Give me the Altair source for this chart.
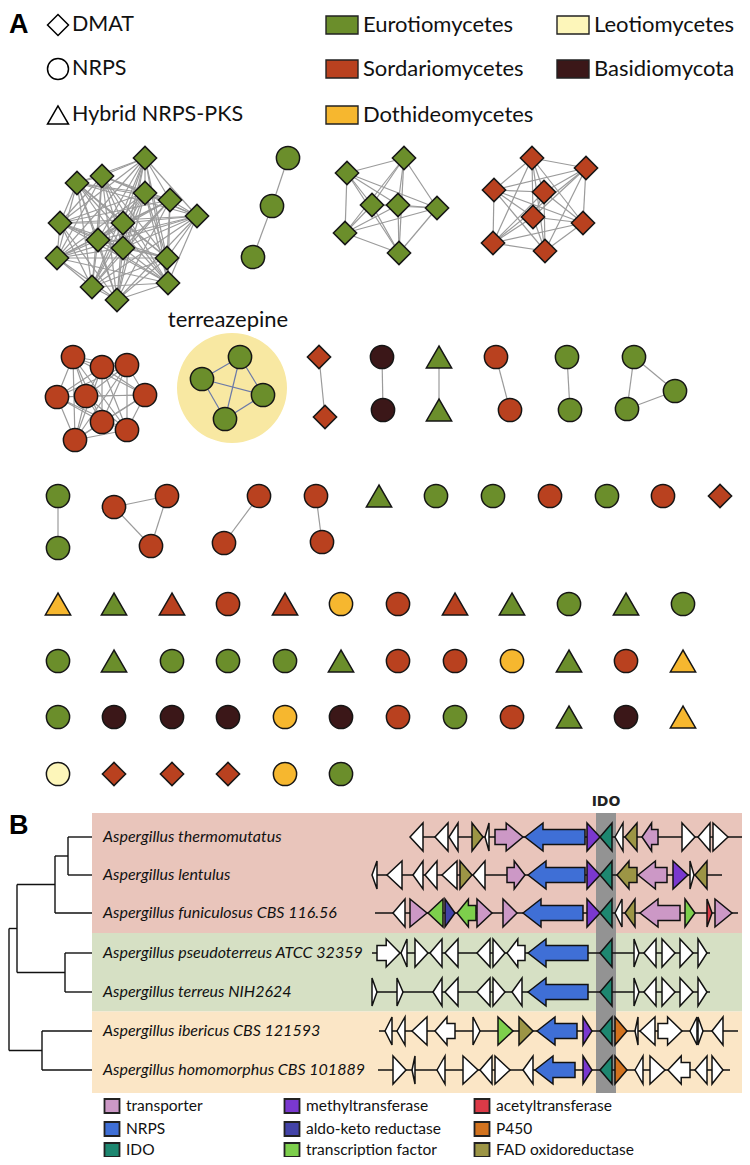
import itertools
import altair as alt
import pandas as pd

# ================= Panel A : legend =================
shape_codes = ["dmat", "nrps", "hyb"]
shape_labels = ["DMAT", "NRPS", "Hybrid NRPS-PKS"]
shape_marks = ["diamond", "circle", "triangle-up"]

taxon_codes = ["eur", "sor", "dot", "leo", "bas"]
taxon_labels = ["Eurotiomycetes", "Sordariomycetes", "Dothideomycetes", "Leotiomycetes", "Basidiomycota"]
taxon_colors = ["#6b8e2b", "#b9411f", "#f6b72f", "#fdf6ba", "#3b1718"]

# ================= Panel A : network clusters (node positions) =================
c1_x = [145, 77, 102, 145, 170, 197, 60, 123, 98, 123, 57, 167, 92, 168, 117]
c1_y = [158, 183, 176, 193, 200, 216, 223, 223, 240, 248, 258, 258, 287, 283, 300]
c2_x = [288, 272, 253]
c2_y = [158, 206, 257]
c3_x = [404, 347, 372, 398, 437, 345, 399]
c3_y = [158, 173, 205, 205, 208, 233, 253]
c4_x = [532, 586, 494, 544, 533, 583, 493, 545]
c4_y = [158, 168, 190, 192, 217, 223, 243, 251]
c5_x = [73, 102, 127, 57, 86, 145, 102, 127, 75]
c5_y = [357, 367, 365, 397, 396, 395, 422, 430, 440]
c6_x = [240, 202, 263, 225]          # terreazepine
c6_y = [357, 379, 395, 419]
c7_x = [319, 325]
c7_y = [357, 417]
c8_x = [382, 383]
c8_y = [357, 410]
c9_x = [439, 439]
c9_y = [357, 410]
c10_x = [496, 510]
c10_y = [357, 410]
c11_x = [567, 570]
c11_y = [357, 410]
c12_x = [634, 675, 627]
c12_y = [357, 391, 409]
c13_x = [58, 58]
c13_y = [496, 548]
c14_x = [114, 167, 151]
c14_y = [507, 496, 546]
c15_x = [259, 224]
c15_y = [496, 543]
c16_x = [316, 322]
c16_y = [496, 542]

cluster_shape = ["dmat", "nrps", "dmat", "dmat", "nrps", "nrps", "dmat", "nrps",
                 "hyb", "nrps", "nrps", "nrps", "nrps", "nrps", "nrps", "nrps"]
cluster_taxon = ["eur", "eur", "eur", "sor", "sor", "eur", "sor", "bas",
                 "eur", "sor", "eur", "eur", "eur", "sor", "sor", "sor"]
cluster_edges = ["all", "chain", "all", "all", "all", "all", "all", "all",
                 "all", "all", "all", "all", "all", "all", "all", "all"]

# singletons in the row of pairs
row3_x = [379, 436, 493, 550, 607, 663, 720]
row3_y = 496
row3_shape = ["hyb", "nrps", "nrps", "nrps", "nrps", "nrps", "dmat"]
row3_taxon = ["eur", "eur", "eur", "sor", "eur", "sor", "sor"]

# singleton grid
grid_x = [58, 114, 172, 228, 285, 341, 398, 455, 512, 569, 626, 683]
grid_y = [604, 661, 717, 774]
grid_shape = [
    ["hyb", "hyb", "hyb", "nrps", "hyb", "nrps", "nrps", "hyb", "hyb", "nrps", "hyb", "nrps"],
    ["nrps", "hyb", "nrps", "nrps", "nrps", "hyb", "nrps", "nrps", "nrps", "hyb", "nrps", "hyb"],
    ["nrps", "nrps", "nrps", "nrps", "nrps", "nrps", "nrps", "nrps", "nrps", "hyb", "nrps", "hyb"],
    ["nrps", "dmat", "dmat", "dmat", "nrps", "nrps"],
]
grid_taxon = [
    ["dot", "eur", "sor", "sor", "sor", "dot", "sor", "sor", "eur", "eur", "eur", "eur"],
    ["eur", "eur", "eur", "eur", "eur", "eur", "sor", "sor", "dot", "eur", "sor", "dot"],
    ["eur", "bas", "bas", "bas", "dot", "bas", "sor", "eur", "sor", "eur", "bas", "dot"],
    ["leo", "sor", "sor", "sor", "dot", "eur"],
]

# ================= Panel B =================
species = ["Aspergillus thermomutatus", "Aspergillus lentulus", "Aspergillus funiculosus CBS 116.56",
           "Aspergillus pseudoterreus ATCC 32359", "Aspergillus terreus NIH2624",
           "Aspergillus ibericus CBS 121593", "Aspergillus homomorphus CBS 101889"]
species_y = [837, 875, 913, 953, 992, 1031, 1070]

# tree: (node, child a, child b, branch x)
tree_nodes = [("n1", 0, 1, 68), ("n2", "n1", 2, 55), ("n3", 3, 4, 65),
              ("n4", "n2", "n3", 17), ("n5", 5, 6, 42), ("root", "n4", "n5", 9)]

clade_first = [0, 3, 5]
clade_last = [2, 4, 6]
clade_colors = ["#e9c5bb", "#d6e0c4", "#fbe6c6"]

gene_types = ["tr", "nrps", "ido", "mt", "akr", "tf", "at", "p450", "fad", "other"]
gene_labels = ["transporter", "NRPS", "IDO", "methyltransferase", "aldo-keto reductase",
               "transcription factor", "acetyltransferase", "P450", "FAD oxidoreductase", ""]
gene_colors = ["#cc98c6", "#3f6fd6", "#1d8770", "#7a38cf", "#4343a8",
               "#7dcf4c", "#dc3a47", "#d2731f", "#9c9545", "#ffffff"]

# locus extents (start, end) per species
locus_start = [410, 372, 375, 372, 372, 379, 378]
locus_end = [743, 722, 738, 710, 710, 738, 730]

# genes: (start, end, strand, type, block-arrow)
genes_r1 = [(410, 423, -1, "other", 0), (435, 448, -1, "other", 0), (449, 458, -1, "other", 0),
            (472, 483, 1, "fad", 0), (485, 489, -1, "other", 0), (495, 523, 1, "tr", 1),
            (525, 585, -1, "nrps", 1), (587, 600, 1, "mt", 0), (600, 612, -1, "ido", 0),
            (615, 623, -1, "other", 0), (625, 637, -1, "fad", 0), (642, 658, -1, "tr", 1),
            (682, 695, 1, "other", 0), (698, 710, -1, "other", 0), (713, 728, 1, "other", 0)]
genes_r2 = [(372, 377, -1, "other", 0), (387, 402, -1, "other", 0), (413, 423, -1, "other", 0),
            (425, 437, -1, "other", 0), (442, 457, -1, "other", 0), (460, 472, 1, "fad", 0),
            (473, 485, -1, "other", 0), (507, 525, 1, "tr", 1), (528, 585, -1, "nrps", 1),
            (587, 600, 1, "mt", 0), (600, 612, -1, "ido", 0), (617, 637, -1, "fad", 1),
            (638, 667, -1, "tr", 1), (673, 688, 1, "mt", 0), (690, 694, 1, "other", 0),
            (695, 707, -1, "fad", 0)]
genes_r3 = [(393, 405, -1, "other", 0), (410, 427, 1, "tr", 0), (428, 443, -1, "tf", 0),
            (445, 455, 1, "akr", 0), (457, 476, -1, "tf", 1), (477, 492, 1, "tr", 0),
            (503, 517, 1, "tr", 0), (523, 583, -1, "nrps", 1), (587, 600, 1, "mt", 0),
            (600, 612, -1, "ido", 0), (615, 622, -1, "other", 0), (625, 635, -1, "fad", 0),
            (640, 680, -1, "tr", 1), (685, 695, 1, "tf", 0), (707, 712, 1, "at", 0),
            (715, 732, 1, "tr", 0)]
genes_r4 = [(377, 400, 1, "other", 1), (401, 407, -1, "other", 0), (415, 428, 1, "other", 0),
            (430, 442, -1, "other", 0), (445, 458, -1, "other", 0), (477, 490, -1, "other", 0),
            (493, 505, 1, "other", 0), (507, 525, -1, "other", 1), (528, 588, -1, "nrps", 1),
            (600, 612, -1, "ido", 0), (634, 639, 1, "other", 0), (644, 656, -1, "other", 0),
            (662, 675, 1, "other", 0), (680, 693, 1, "other", 0), (698, 707, 1, "other", 0)]
genes_r5 = [(372, 377, 1, "other", 0), (397, 403, 1, "other", 0), (433, 442, -1, "other", 0),
            (445, 458, -1, "other", 0), (477, 490, -1, "other", 0), (493, 505, 1, "other", 0),
            (512, 522, -1, "other", 0), (528, 588, -1, "nrps", 1), (600, 612, -1, "ido", 0),
            (634, 639, 1, "other", 0), (644, 656, -1, "other", 0), (662, 675, 1, "other", 0),
            (680, 693, 1, "other", 0), (698, 707, 1, "other", 0)]
genes_r6 = [(385, 392, -1, "other", 0), (397, 405, -1, "other", 0), (412, 427, -1, "other", 0),
            (435, 455, -1, "other", 1), (473, 480, 1, "other", 0), (498, 513, 1, "tf", 0),
            (519, 533, 1, "fad", 0), (537, 577, -1, "nrps", 1), (583, 592, 1, "mt", 0),
            (600, 612, -1, "ido", 0), (615, 627, 1, "p450", 0), (635, 638, -1, "other", 0),
            (640, 655, -1, "other", 0), (658, 682, 1, "other", 1), (690, 697, -1, "other", 0),
            (698, 703, 1, "other", 0), (712, 723, -1, "other", 0)]
genes_r7 = [(393, 406, 1, "other", 0), (412, 415, -1, "other", 0), (437, 445, -1, "other", 0),
            (463, 478, 1, "other", 0), (480, 492, -1, "other", 0), (495, 510, 1, "other", 0),
            (523, 533, -1, "other", 0), (535, 575, -1, "nrps", 1), (583, 592, 1, "mt", 0),
            (600, 612, -1, "ido", 0), (615, 627, 1, "p450", 0), (635, 643, -1, "other", 0),
            (650, 665, 1, "other", 0), (668, 690, -1, "other", 1), (695, 707, -1, "other", 0),
            (712, 723, 1, "other", 0)]
all_genes = [genes_r1, genes_r2, genes_r3, genes_r4, genes_r5, genes_r6, genes_r7]
ido_span = (596, 616)

# ================= layout constants =================
XS = alt.Scale(domain=[8, 742], nice=False, zero=False)
YS = alt.Scale(domain=[8, 1157], reverse=True, nice=False, zero=False)
X = alt.X("x:Q", scale=XS, axis=None)
Y = alt.Y("y:Q", scale=YS, axis=None)
X2 = alt.X2("x2:Q")
Y2 = alt.Y2("y2:Q")
SHAPE = alt.Shape("shape:N", scale=alt.Scale(domain=shape_codes, range=shape_marks), legend=None)
TCOL = alt.Color("taxon:N", scale=alt.Scale(domain=taxon_codes, range=taxon_colors), legend=None)
GCOL = alt.Color("gtype:N", scale=alt.Scale(domain=gene_types, range=gene_colors), legend=None)
FONT = "Lato"

legend_rows = [25, 69, 115]
node_size = {"dmat": 540, "nrps": 540, "hyb": 640}

# ---------- build network tables ----------
cl_x = [c1_x, c2_x, c3_x, c4_x, c5_x, c6_x, c7_x, c8_x, c9_x, c10_x, c11_x, c12_x, c13_x, c14_x, c15_x, c16_x]
cl_y = [c1_y, c2_y, c3_y, c4_y, c5_y, c6_y, c7_y, c8_y, c9_y, c10_y, c11_y, c12_y, c13_y, c14_y, c15_y, c16_y]
nodes, edges = [], []
for ci, (xs, ys) in enumerate(zip(cl_x, cl_y)):
    for x, y in zip(xs, ys):
        nodes.append(dict(x=x, y=y, shape=cluster_shape[ci], taxon=cluster_taxon[ci]))
    idx = range(len(xs))
    pairs = list(zip(idx[:-1], idx[1:])) if cluster_edges[ci] == "chain" else list(itertools.combinations(idx, 2))
    for a, b in pairs:
        edges.append(dict(x=xs[a], y=ys[a], x2=xs[b], y2=ys[b], kind="terre" if ci == 5 else "plain"))
for x, s, t in zip(row3_x, row3_shape, row3_taxon):
    nodes.append(dict(x=x, y=row3_y, shape=s, taxon=t))
for gy, srow, trow in zip(grid_y, grid_shape, grid_taxon):
    for gx, s, t in zip(grid_x, srow, trow):
        nodes.append(dict(x=gx, y=gy, shape=s, taxon=t))
nodes = pd.DataFrame(nodes)
nodes["sz"] = nodes["shape"].map(node_size)
edges = pd.DataFrame(edges)

layers = []

# panel labels
labels_df = pd.DataFrame(dict(x=[9, 9], y=[25, 826], text=["A", "B"]))
layers.append(alt.Chart(labels_df).mark_text(align="left", baseline="middle", font="Liberation Sans",
                                              fontWeight="bold", fontSize=27, color="black")
              .encode(x=X, y=Y, text="text:N"))

# shape legend
sl = pd.DataFrame(dict(x=[58] * 3, y=legend_rows, shape=shape_codes, label=shape_labels))
layers.append(alt.Chart(sl).mark_point(filled=False, stroke="black", strokeWidth=1.5, size=440, opacity=1)
              .encode(x=X, y=Y, shape=SHAPE))
sl["tx"] = 72
layers.append(alt.Chart(sl).mark_text(align="left", baseline="middle", font=FONT, fontSize=21.5, color="#111")
              .encode(x=alt.X("tx:Q", scale=XS, axis=None), y=Y, text="label:N"))

# taxon legend
tl = pd.DataFrame(dict(taxon=taxon_codes, label=taxon_labels,
                       cx=[342, 342, 342, 573, 573], y=legend_rows[:3] + legend_rows[:2]))
tl["x"] = tl["cx"] - 16
tl["x2"] = tl["cx"] + 16
tl["yy"] = tl["y"] - 9
tl["yy2"] = tl["y"] + 9
tl["tx"] = tl["cx"] + 21
layers.append(alt.Chart(tl).mark_rect(stroke="#222", strokeWidth=1.4)
              .encode(x=X, x2=X2, y=alt.Y("yy:Q", scale=YS, axis=None), y2=alt.Y2("yy2:Q"), color=TCOL))
layers.append(alt.Chart(tl).mark_text(align="left", baseline="middle", font=FONT, fontSize=22, color="#111")
              .encode(x=alt.X("tx:Q", scale=XS, axis=None), y=Y, text="label:N"))

# terreazepine highlight
hl = pd.DataFrame(dict(x=[232], y=[388]))
layers.append(alt.Chart(hl).mark_point(filled=True, shape="circle", size=12100, color="#f8e8a2", opacity=1)
              .encode(x=X, y=Y))
tz = pd.DataFrame(dict(x=[228], y=[320], text=["terreazepine"]))
layers.append(alt.Chart(tz).mark_text(align="center", baseline="middle", font=FONT, fontSize=22, color="#111")
              .encode(x=X, y=Y, text="text:N"))

# edges + nodes
layers.append(alt.Chart(edges).mark_rule(strokeWidth=1.2)
              .encode(x=X, y=Y, x2=X2, y2=Y2,
                      color=alt.Color("kind:N", scale=alt.Scale(domain=["plain", "terre"], range=["#9b9b9b", "#6b79a8"]), legend=None)))
layers.append(alt.Chart(nodes).mark_point(filled=True, stroke="#151515", strokeWidth=1.5, opacity=1)
              .encode(x=X, y=Y, shape=SHAPE, color=TCOL, size=alt.Size("sz:Q", scale=None, legend=None)))

# ---------- Panel B ----------
bands = pd.DataFrame(dict(x=[92] * 3, x2=[742] * 3,
                          y=[species_y[f] - 24 if f == 0 else (species_y[f - 1] + species_y[f]) / 2 for f in clade_first],
                          y2=[species_y[l] + 23 if l == len(species_y) - 1 else (species_y[l] + species_y[l + 1]) / 2 for l in clade_last],
                          c=["p", "g", "o"]))
layers.append(alt.Chart(bands).mark_rect()
              .encode(x=X, x2=X2, y=Y, y2=Y2,
                      color=alt.Color("c:N", scale=alt.Scale(domain=["p", "g", "o"], range=clade_colors), legend=None)))
ido_df = pd.DataFrame(dict(x=[ido_span[0]], x2=[ido_span[1]], y=[species_y[0] - 24], y2=[species_y[-1] + 23]))
layers.append(alt.Chart(ido_df).mark_rect(color="#939393").encode(x=X, x2=X2, y=Y, y2=Y2))
ido_lab = pd.DataFrame(dict(x=[(ido_span[0] + ido_span[1]) / 2], y=[802], text=["IDO"]))
layers.append(alt.Chart(ido_lab).mark_text(align="center", baseline="middle", font="DejaVu Sans",
                                           fontWeight="bold", fontSize=14, color="#222")
              .encode(x=X, y=Y, text="text:N"))

# tree
pos = {i: (92, y) for i, y in enumerate(species_y)}
tree_segs = []
for name, a, b, bx in tree_nodes:
    ya, yb = pos[a][1], pos[b][1]
    tree_segs.append(dict(x=bx, y=ya, x2=bx, y2=yb))
    tree_segs.append(dict(x=bx, y=ya, x2=pos[a][0], y2=ya))
    tree_segs.append(dict(x=bx, y=yb, x2=pos[b][0], y2=yb))
    pos[name] = (bx, (ya + yb) / 2)
layers.append(alt.Chart(pd.DataFrame(tree_segs)).mark_rule(color="#111", strokeWidth=1.4)
              .encode(x=X, y=Y, x2=X2, y2=Y2))

sp = pd.DataFrame(dict(x=[103] * len(species), y=species_y, text=species))
layers.append(alt.Chart(sp).mark_text(align="left", baseline="middle", font=FONT, fontStyle="italic",
                                      fontSize=16, color="#111")
              .encode(x=X, y=Y, text="text:N"))

# loci backbones
bb = pd.DataFrame(dict(x=locus_start, x2=locus_end, y=species_y, y2=species_y))
layers.append(alt.Chart(bb).mark_rule(color="#111", strokeWidth=1.6).encode(x=X, y=Y, x2=X2, y2=Y2))

# gene arrows (x strictly increasing inside each gene)
EPS = 0.01
def arrow(x0, x1, d, blk, yc, body=7.5, hh=14.0):
    if not blk:
        pts = [(x0, hh), (x1, 0.0)] if d > 0 else [(x0, 0.0), (x1, hh)]
    else:
        hl = min(18.0, 0.6 * (x1 - x0))
        if d > 0:
            pts = [(x0, body), (x1 - hl - EPS, body), (x1 - hl, hh), (x1, 0.0)]
        else:
            pts = [(x0, 0.0), (x0 + hl, hh), (x0 + hl + EPS, body), (x1, body)]
    return [(x, yc - h, yc + h) for x, h in pts]

grows = []
gid = 0
for r, glist in enumerate(all_genes):
    for (s, e, d, t, blk) in glist:
        for (x, ya, yb) in arrow(s, e, d, blk, species_y[r]):
            grows.append(dict(gid="g%03d" % gid, x=x, y=ya, y2=yb, gtype=t))
        gid += 1
gdf = pd.DataFrame(grows)
layers.append(alt.Chart(gdf).mark_area(stroke="#111", strokeWidth=1.5, opacity=1, fillOpacity=1)
              .encode(x=X, y=alt.Y("y:Q", scale=YS, axis=None, stack=False), y2=Y2, color=GCOL,
                      detail="gid:N"))

# gene legend
leg_cols = [112, 292, 482]
leg_rows = [1106, 1129, 1150]
lg = []
for i, t in enumerate(gene_types[:9]):
    cx, cy = leg_cols[i // 3], leg_rows[i % 3]
    lg.append(dict(x=cx - 7.5, x2=cx + 7.5, y=cy - 7, y2=cy + 7, gtype=t, tx=cx + 14, ty=cy, label=gene_labels[i]))
lg = pd.DataFrame(lg)
layers.append(alt.Chart(lg).mark_rect(stroke="#222", strokeWidth=1.8)
              .encode(x=X, x2=X2, y=Y, y2=Y2, color=GCOL))
layers.append(alt.Chart(lg).mark_text(align="left", baseline="middle", font=FONT, fontSize=15.5, color="#111")
              .encode(x=alt.X("tx:Q", scale=XS, axis=None), y=alt.Y("ty:Q", scale=YS, axis=None), text="label:N"))

chart = (alt.layer(*layers)
         .resolve_scale(color="independent")
         .properties(width=734, height=1149, padding=0, background="white",
                     autosize=alt.AutoSizeParams(type="none"))
         .configure_view(stroke=None))

chart.save("out.html", embed_options={"renderer": "svg", "actions": False})
